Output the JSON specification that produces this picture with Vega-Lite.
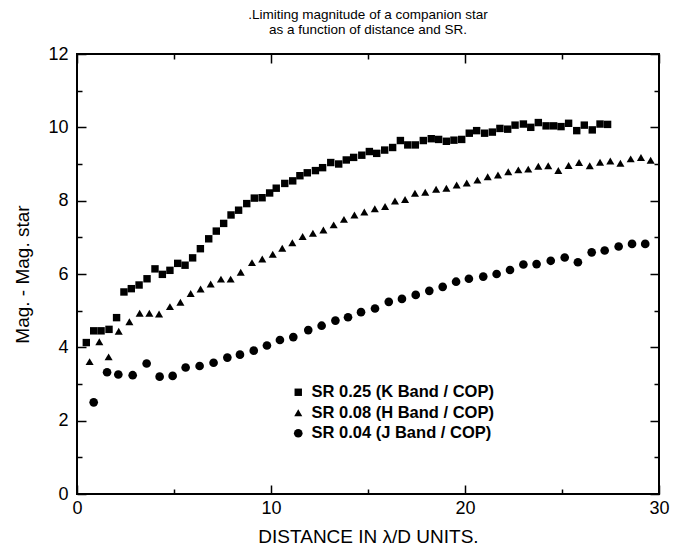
{
  "$schema": "https://vega.github.io/schema/vega-lite/v6.json",
  "width": 582,
  "height": 440,
  "autosize": {"type": "none"},
  "padding": {"left": 77, "top": 54, "right": 14, "bottom": 56},
  "background": "white",
  "config": {
    "font": "Liberation Sans",
    "view": {"stroke": "black", "strokeWidth": 2},
    "axis": {"domain": false, "grid": false, "tickColor": "black", "tickWidth": 1.5, "labelColor": "black", "titleColor": "black", "titleFontWeight": "normal"}
  },
  "title": {
    "text": [".Limiting magnitude of a companion star", "as a function of distance and SR."],
    "fontSize": 13.5,
    "fontWeight": "normal",
    "color": "black",
    "anchor": "middle",
    "frame": "group",
    "offset": 9,
    "lineHeight": 15
  },
  "data": {
    "values": [
      {"series": "SR 0.25 (K Band / COP)", "d": 0.48, "m": 4.13},
      {"series": "SR 0.25 (K Band / COP)", "d": 0.86, "m": 4.45},
      {"series": "SR 0.25 (K Band / COP)", "d": 1.24, "m": 4.45},
      {"series": "SR 0.25 (K Band / COP)", "d": 1.65, "m": 4.49},
      {"series": "SR 0.25 (K Band / COP)", "d": 2.04, "m": 4.81},
      {"series": "SR 0.25 (K Band / COP)", "d": 2.42, "m": 5.51},
      {"series": "SR 0.25 (K Band / COP)", "d": 2.80, "m": 5.60},
      {"series": "SR 0.25 (K Band / COP)", "d": 3.20, "m": 5.70},
      {"series": "SR 0.25 (K Band / COP)", "d": 3.61, "m": 5.87},
      {"series": "SR 0.25 (K Band / COP)", "d": 4.02, "m": 6.14},
      {"series": "SR 0.25 (K Band / COP)", "d": 4.40, "m": 5.99},
      {"series": "SR 0.25 (K Band / COP)", "d": 4.79, "m": 6.10},
      {"series": "SR 0.25 (K Band / COP)", "d": 5.19, "m": 6.29},
      {"series": "SR 0.25 (K Band / COP)", "d": 5.57, "m": 6.24},
      {"series": "SR 0.25 (K Band / COP)", "d": 5.96, "m": 6.44},
      {"series": "SR 0.25 (K Band / COP)", "d": 6.36, "m": 6.69},
      {"series": "SR 0.25 (K Band / COP)", "d": 6.79, "m": 6.96},
      {"series": "SR 0.25 (K Band / COP)", "d": 7.18, "m": 7.17},
      {"series": "SR 0.25 (K Band / COP)", "d": 7.56, "m": 7.38},
      {"series": "SR 0.25 (K Band / COP)", "d": 7.94, "m": 7.61},
      {"series": "SR 0.25 (K Band / COP)", "d": 8.33, "m": 7.74},
      {"series": "SR 0.25 (K Band / COP)", "d": 8.75, "m": 7.92},
      {"series": "SR 0.25 (K Band / COP)", "d": 9.14, "m": 8.07},
      {"series": "SR 0.25 (K Band / COP)", "d": 9.54, "m": 8.08},
      {"series": "SR 0.25 (K Band / COP)", "d": 9.93, "m": 8.21},
      {"series": "SR 0.25 (K Band / COP)", "d": 10.27, "m": 8.34},
      {"series": "SR 0.25 (K Band / COP)", "d": 10.71, "m": 8.47},
      {"series": "SR 0.25 (K Band / COP)", "d": 11.12, "m": 8.54},
      {"series": "SR 0.25 (K Band / COP)", "d": 11.49, "m": 8.68},
      {"series": "SR 0.25 (K Band / COP)", "d": 11.87, "m": 8.76},
      {"series": "SR 0.25 (K Band / COP)", "d": 12.29, "m": 8.82},
      {"series": "SR 0.25 (K Band / COP)", "d": 12.66, "m": 8.90},
      {"series": "SR 0.25 (K Band / COP)", "d": 13.08, "m": 9.04},
      {"series": "SR 0.25 (K Band / COP)", "d": 13.49, "m": 9.00},
      {"series": "SR 0.25 (K Band / COP)", "d": 13.88, "m": 9.11},
      {"series": "SR 0.25 (K Band / COP)", "d": 14.26, "m": 9.18},
      {"series": "SR 0.25 (K Band / COP)", "d": 14.68, "m": 9.24},
      {"series": "SR 0.25 (K Band / COP)", "d": 15.07, "m": 9.34},
      {"series": "SR 0.25 (K Band / COP)", "d": 15.45, "m": 9.29},
      {"series": "SR 0.25 (K Band / COP)", "d": 15.86, "m": 9.38},
      {"series": "SR 0.25 (K Band / COP)", "d": 16.27, "m": 9.45},
      {"series": "SR 0.25 (K Band / COP)", "d": 16.67, "m": 9.64},
      {"series": "SR 0.25 (K Band / COP)", "d": 17.05, "m": 9.52},
      {"series": "SR 0.25 (K Band / COP)", "d": 17.44, "m": 9.52},
      {"series": "SR 0.25 (K Band / COP)", "d": 17.85, "m": 9.64},
      {"series": "SR 0.25 (K Band / COP)", "d": 18.26, "m": 9.69},
      {"series": "SR 0.25 (K Band / COP)", "d": 18.64, "m": 9.67},
      {"series": "SR 0.25 (K Band / COP)", "d": 19.04, "m": 9.62},
      {"series": "SR 0.25 (K Band / COP)", "d": 19.43, "m": 9.65},
      {"series": "SR 0.25 (K Band / COP)", "d": 19.83, "m": 9.67},
      {"series": "SR 0.25 (K Band / COP)", "d": 20.22, "m": 9.84},
      {"series": "SR 0.25 (K Band / COP)", "d": 20.60, "m": 9.91},
      {"series": "SR 0.25 (K Band / COP)", "d": 21.01, "m": 9.84},
      {"series": "SR 0.25 (K Band / COP)", "d": 21.41, "m": 9.87},
      {"series": "SR 0.25 (K Band / COP)", "d": 21.80, "m": 9.97},
      {"series": "SR 0.25 (K Band / COP)", "d": 22.20, "m": 9.95},
      {"series": "SR 0.25 (K Band / COP)", "d": 22.58, "m": 10.06},
      {"series": "SR 0.25 (K Band / COP)", "d": 23.01, "m": 10.09},
      {"series": "SR 0.25 (K Band / COP)", "d": 23.39, "m": 10.00},
      {"series": "SR 0.25 (K Band / COP)", "d": 23.78, "m": 10.13},
      {"series": "SR 0.25 (K Band / COP)", "d": 24.18, "m": 10.04},
      {"series": "SR 0.25 (K Band / COP)", "d": 24.57, "m": 10.04},
      {"series": "SR 0.25 (K Band / COP)", "d": 24.95, "m": 10.02},
      {"series": "SR 0.25 (K Band / COP)", "d": 25.34, "m": 10.11},
      {"series": "SR 0.25 (K Band / COP)", "d": 25.76, "m": 9.91},
      {"series": "SR 0.25 (K Band / COP)", "d": 26.15, "m": 10.06},
      {"series": "SR 0.25 (K Band / COP)", "d": 26.56, "m": 9.93},
      {"series": "SR 0.25 (K Band / COP)", "d": 26.96, "m": 10.09},
      {"series": "SR 0.25 (K Band / COP)", "d": 27.35, "m": 10.08},
      {"series": "SR 0.08 (H Band / COP)", "d": 0.65, "m": 3.61},
      {"series": "SR 0.08 (H Band / COP)", "d": 1.15, "m": 4.15},
      {"series": "SR 0.08 (H Band / COP)", "d": 1.63, "m": 3.74},
      {"series": "SR 0.08 (H Band / COP)", "d": 2.15, "m": 4.44},
      {"series": "SR 0.08 (H Band / COP)", "d": 2.70, "m": 4.70},
      {"series": "SR 0.08 (H Band / COP)", "d": 3.23, "m": 4.93},
      {"series": "SR 0.08 (H Band / COP)", "d": 3.73, "m": 4.93},
      {"series": "SR 0.08 (H Band / COP)", "d": 4.23, "m": 4.91},
      {"series": "SR 0.08 (H Band / COP)", "d": 4.79, "m": 5.11},
      {"series": "SR 0.08 (H Band / COP)", "d": 5.33, "m": 5.23},
      {"series": "SR 0.08 (H Band / COP)", "d": 5.86, "m": 5.47},
      {"series": "SR 0.08 (H Band / COP)", "d": 6.37, "m": 5.59},
      {"series": "SR 0.08 (H Band / COP)", "d": 6.89, "m": 5.73},
      {"series": "SR 0.08 (H Band / COP)", "d": 7.42, "m": 5.86},
      {"series": "SR 0.08 (H Band / COP)", "d": 7.92, "m": 5.86},
      {"series": "SR 0.08 (H Band / COP)", "d": 8.44, "m": 6.05},
      {"series": "SR 0.08 (H Band / COP)", "d": 9.02, "m": 6.31},
      {"series": "SR 0.08 (H Band / COP)", "d": 9.55, "m": 6.41},
      {"series": "SR 0.08 (H Band / COP)", "d": 10.09, "m": 6.54},
      {"series": "SR 0.08 (H Band / COP)", "d": 10.58, "m": 6.70},
      {"series": "SR 0.08 (H Band / COP)", "d": 11.10, "m": 6.85},
      {"series": "SR 0.08 (H Band / COP)", "d": 11.63, "m": 7.02},
      {"series": "SR 0.08 (H Band / COP)", "d": 12.16, "m": 7.11},
      {"series": "SR 0.08 (H Band / COP)", "d": 12.70, "m": 7.20},
      {"series": "SR 0.08 (H Band / COP)", "d": 13.23, "m": 7.34},
      {"series": "SR 0.08 (H Band / COP)", "d": 13.76, "m": 7.49},
      {"series": "SR 0.08 (H Band / COP)", "d": 14.30, "m": 7.61},
      {"series": "SR 0.08 (H Band / COP)", "d": 14.81, "m": 7.69},
      {"series": "SR 0.08 (H Band / COP)", "d": 15.35, "m": 7.78},
      {"series": "SR 0.08 (H Band / COP)", "d": 15.88, "m": 7.84},
      {"series": "SR 0.08 (H Band / COP)", "d": 16.39, "m": 7.99},
      {"series": "SR 0.08 (H Band / COP)", "d": 16.91, "m": 8.03},
      {"series": "SR 0.08 (H Band / COP)", "d": 17.42, "m": 8.20},
      {"series": "SR 0.08 (H Band / COP)", "d": 17.95, "m": 8.23},
      {"series": "SR 0.08 (H Band / COP)", "d": 18.51, "m": 8.31},
      {"series": "SR 0.08 (H Band / COP)", "d": 19.04, "m": 8.34},
      {"series": "SR 0.08 (H Band / COP)", "d": 19.57, "m": 8.43},
      {"series": "SR 0.08 (H Band / COP)", "d": 20.09, "m": 8.48},
      {"series": "SR 0.08 (H Band / COP)", "d": 20.64, "m": 8.56},
      {"series": "SR 0.08 (H Band / COP)", "d": 21.17, "m": 8.65},
      {"series": "SR 0.08 (H Band / COP)", "d": 21.70, "m": 8.70},
      {"series": "SR 0.08 (H Band / COP)", "d": 22.23, "m": 8.79},
      {"series": "SR 0.08 (H Band / COP)", "d": 22.75, "m": 8.84},
      {"series": "SR 0.08 (H Band / COP)", "d": 23.26, "m": 8.86},
      {"series": "SR 0.08 (H Band / COP)", "d": 23.78, "m": 8.94},
      {"series": "SR 0.08 (H Band / COP)", "d": 24.29, "m": 8.95},
      {"series": "SR 0.08 (H Band / COP)", "d": 24.81, "m": 8.82},
      {"series": "SR 0.08 (H Band / COP)", "d": 25.34, "m": 8.96},
      {"series": "SR 0.08 (H Band / COP)", "d": 25.88, "m": 9.04},
      {"series": "SR 0.08 (H Band / COP)", "d": 26.43, "m": 8.95},
      {"series": "SR 0.08 (H Band / COP)", "d": 26.96, "m": 9.05},
      {"series": "SR 0.08 (H Band / COP)", "d": 27.49, "m": 9.08},
      {"series": "SR 0.08 (H Band / COP)", "d": 28.01, "m": 9.02},
      {"series": "SR 0.08 (H Band / COP)", "d": 28.54, "m": 9.14},
      {"series": "SR 0.08 (H Band / COP)", "d": 29.07, "m": 9.18},
      {"series": "SR 0.08 (H Band / COP)", "d": 29.57, "m": 9.10},
      {"series": "SR 0.04 (J Band / COP)", "d": 0.86, "m": 2.50},
      {"series": "SR 0.04 (J Band / COP)", "d": 1.55, "m": 3.32},
      {"series": "SR 0.04 (J Band / COP)", "d": 2.13, "m": 3.26},
      {"series": "SR 0.04 (J Band / COP)", "d": 2.87, "m": 3.24},
      {"series": "SR 0.04 (J Band / COP)", "d": 3.59, "m": 3.56},
      {"series": "SR 0.04 (J Band / COP)", "d": 4.26, "m": 3.20},
      {"series": "SR 0.04 (J Band / COP)", "d": 4.93, "m": 3.22},
      {"series": "SR 0.04 (J Band / COP)", "d": 5.60, "m": 3.45},
      {"series": "SR 0.04 (J Band / COP)", "d": 6.32, "m": 3.49},
      {"series": "SR 0.04 (J Band / COP)", "d": 7.04, "m": 3.58},
      {"series": "SR 0.04 (J Band / COP)", "d": 7.75, "m": 3.72},
      {"series": "SR 0.04 (J Band / COP)", "d": 8.40, "m": 3.80},
      {"series": "SR 0.04 (J Band / COP)", "d": 9.11, "m": 3.91},
      {"series": "SR 0.04 (J Band / COP)", "d": 9.79, "m": 4.05},
      {"series": "SR 0.04 (J Band / COP)", "d": 10.46, "m": 4.20},
      {"series": "SR 0.04 (J Band / COP)", "d": 11.15, "m": 4.28},
      {"series": "SR 0.04 (J Band / COP)", "d": 11.92, "m": 4.47},
      {"series": "SR 0.04 (J Band / COP)", "d": 12.61, "m": 4.59},
      {"series": "SR 0.04 (J Band / COP)", "d": 13.32, "m": 4.73},
      {"series": "SR 0.04 (J Band / COP)", "d": 13.97, "m": 4.82},
      {"series": "SR 0.04 (J Band / COP)", "d": 14.64, "m": 4.96},
      {"series": "SR 0.04 (J Band / COP)", "d": 15.36, "m": 5.06},
      {"series": "SR 0.04 (J Band / COP)", "d": 16.07, "m": 5.24},
      {"series": "SR 0.04 (J Band / COP)", "d": 16.75, "m": 5.32},
      {"series": "SR 0.04 (J Band / COP)", "d": 17.46, "m": 5.43},
      {"series": "SR 0.04 (J Band / COP)", "d": 18.16, "m": 5.54},
      {"series": "SR 0.04 (J Band / COP)", "d": 18.85, "m": 5.65},
      {"series": "SR 0.04 (J Band / COP)", "d": 19.54, "m": 5.79},
      {"series": "SR 0.04 (J Band / COP)", "d": 20.20, "m": 5.87},
      {"series": "SR 0.04 (J Band / COP)", "d": 20.94, "m": 5.93},
      {"series": "SR 0.04 (J Band / COP)", "d": 21.63, "m": 6.00},
      {"series": "SR 0.04 (J Band / COP)", "d": 22.32, "m": 6.11},
      {"series": "SR 0.04 (J Band / COP)", "d": 23.01, "m": 6.26},
      {"series": "SR 0.04 (J Band / COP)", "d": 23.69, "m": 6.27},
      {"series": "SR 0.04 (J Band / COP)", "d": 24.42, "m": 6.36},
      {"series": "SR 0.04 (J Band / COP)", "d": 25.14, "m": 6.45},
      {"series": "SR 0.04 (J Band / COP)", "d": 25.82, "m": 6.32},
      {"series": "SR 0.04 (J Band / COP)", "d": 26.53, "m": 6.59},
      {"series": "SR 0.04 (J Band / COP)", "d": 27.20, "m": 6.64},
      {"series": "SR 0.04 (J Band / COP)", "d": 27.92, "m": 6.75},
      {"series": "SR 0.04 (J Band / COP)", "d": 28.61, "m": 6.82},
      {"series": "SR 0.04 (J Band / COP)", "d": 29.29, "m": 6.82}
    ]
  },
  "layer": [
    {
      "mark": {"type": "point", "filled": true, "opacity": 1, "color": "black", "strokeWidth": 0},
      "encoding": {
        "x": {
          "field": "d", "type": "quantitative",
          "scale": {"domain": [0, 30], "nice": false, "zero": false},
          "axis": {
            "orient": "bottom",
            "values": [0, 5, 10, 15, 20, 25, 30],
            "labelExpr": "datum.value % 10 === 0 ? datum.label : ''",
            "tickSize": {"condition": {"test": "datum.value % 10 === 0", "value": -9}, "value": -5},
            "labelFontSize": 18,
            "labelPadding": 14,
            "labelFlush": false,
            "title": "DISTANCE IN λ/D UNITS.",
            "titleFontSize": 19,
            "titlePadding": 10
          }
        },
        "y": {
          "field": "m", "type": "quantitative",
          "scale": {"domain": [0, 12], "nice": false, "zero": false},
          "axis": {
            "orient": "left",
            "values": [0, 1, 2, 3, 4, 5, 6, 7, 8, 9, 10, 11, 12],
            "labelExpr": "datum.value % 2 === 0 ? datum.label : ''",
            "tickSize": {"condition": {"test": "datum.value % 2 === 0", "value": -9}, "value": -5},
            "labelFontSize": 18,
            "labelPadding": 18,
            "labelFlush": false,
            "title": "Mag. - Mag. star",
            "titleFontSize": 19,
            "titlePadding": 15
          }
        },
        "shape": {
          "field": "series", "type": "nominal",
          "scale": {
            "domain": ["SR 0.25 (K Band / COP)", "SR 0.08 (H Band / COP)", "SR 0.04 (J Band / COP)"],
            "range": ["square", "triangle-up", "circle"]
          },
          "legend": {
            "title": null,
            "orient": "none",
            "legendX": 213,
            "legendY": 330,
            "padding": 0,
            "labelFontSize": 16.5,
            "labelFontWeight": "bold",
            "labelColor": "black",
            "labelLimit": 0,
            "labelOffset": 5,
            "rowPadding": 3.5,
            "symbolFillColor": "black",
            "symbolStrokeColor": "black",
            "symbolStrokeWidth": 0,
            "symbolOpacity": 1
          }
        },
        "size": {
          "field": "series", "type": "nominal",
          "scale": {
            "domain": ["SR 0.25 (K Band / COP)", "SR 0.08 (H Band / COP)", "SR 0.04 (J Band / COP)"],
            "range": [55, 75, 58]
          },
          "legend": {
            "title": null,
            "orient": "none",
            "legendX": 213,
            "legendY": 330,
            "padding": 0,
            "labelFontSize": 16.5,
            "labelFontWeight": "bold",
            "labelColor": "black",
            "labelLimit": 0,
            "labelOffset": 5,
            "rowPadding": 3.5,
            "symbolFillColor": "black",
            "symbolStrokeColor": "black",
            "symbolStrokeWidth": 0,
            "symbolOpacity": 1
          }
        }
      }
    },
    {
      "mark": {"type": "point", "opacity": 0},
      "encoding": {
        "x": {
          "field": "d", "type": "quantitative",
          "axis": {
            "orient": "top",
            "values": [0, 5, 10, 15, 20, 25, 30],
            "labels": false,
            "tickSize": {"condition": {"test": "datum.value % 10 === 0", "value": -9}, "value": -5},
            "title": null
          }
        },
        "y": {
          "field": "m", "type": "quantitative",
          "axis": {
            "orient": "right",
            "values": [0, 1, 2, 3, 4, 5, 6, 7, 8, 9, 10, 11, 12],
            "labels": false,
            "tickSize": {"condition": {"test": "datum.value % 2 === 0", "value": -9}, "value": -5},
            "title": null
          }
        }
      }
    }
  ],
  "resolve": {"axis": {"x": "independent", "y": "independent"}}
}
